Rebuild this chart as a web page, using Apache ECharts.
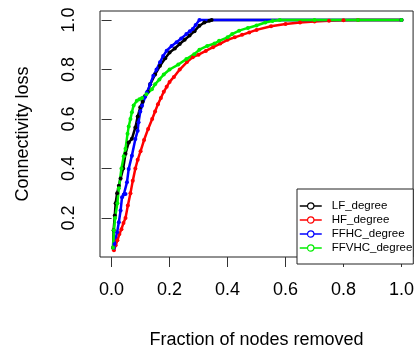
<!DOCTYPE html>
<html>
<head>
<meta charset="utf-8">
<script src="https://cdn.jsdelivr.net/npm/echarts@6/dist/echarts.min.js"></script>
<style>
  html, body { margin: 0; padding: 0; background: #fff; }
  #chart { width: 417px; height: 354px; }
</style>
</head>
<body>
<div id="chart"></div>
<script>
// values, [fraction removed, connectivity loss]
const lfDegree = [
  [0.005, 0.08], [0.007, 0.15], [0.011, 0.21], [0.014, 0.26], [0.019, 0.30], [0.025, 0.33],
  [0.031, 0.36], [0.04, 0.40], [0.048, 0.46], [0.059, 0.505], [0.07, 0.52], [0.082, 0.566],
  [0.09, 0.61], [0.099, 0.647], [0.107, 0.67], [0.116, 0.694], [0.125, 0.71], [0.133, 0.74],
  [0.15, 0.78], [0.167, 0.815], [0.185, 0.845], [0.2, 0.869], [0.218, 0.885], [0.235, 0.903],
  [0.252, 0.92], [0.269, 0.937], [0.286, 0.955], [0.303, 0.977], [0.32, 0.99], [0.337, 0.997],
  [0.345, 1.0], [1.0, 1.0]
];
const hfDegree = [
  [0.008, 0.07], [0.014, 0.09], [0.02, 0.11], [0.027, 0.135], [0.034, 0.155], [0.041, 0.18],
  [0.048, 0.2], [0.056, 0.25], [0.065, 0.3], [0.073, 0.35], [0.082, 0.4], [0.09, 0.435],
  [0.1, 0.47], [0.112, 0.515], [0.126, 0.56], [0.14, 0.6], [0.15, 0.63], [0.16, 0.66],
  [0.17, 0.685], [0.18, 0.71], [0.19, 0.73], [0.2, 0.75], [0.215, 0.77], [0.235, 0.8],
  [0.26, 0.83], [0.28, 0.85], [0.3, 0.86], [0.325, 0.875], [0.35, 0.89], [0.375, 0.905],
  [0.4, 0.92], [0.425, 0.93], [0.45, 0.94], [0.475, 0.95], [0.5, 0.96], [0.55, 0.975],
  [0.6, 0.984], [0.65, 0.99], [0.7, 0.994], [0.75, 0.997], [0.8, 0.999], [0.85, 1.0], [1.0, 1.0]
];
const ffhcDegree = [
  [0.008, 0.08], [0.01, 0.095], [0.019, 0.142], [0.025, 0.183], [0.031, 0.23], [0.036, 0.284],
  [0.042, 0.295], [0.048, 0.297], [0.053, 0.344], [0.059, 0.398], [0.07, 0.452], [0.082, 0.519],
  [0.09, 0.553], [0.093, 0.587], [0.099, 0.63], [0.105, 0.654], [0.116, 0.69], [0.122, 0.708],
  [0.133, 0.74], [0.144, 0.775], [0.155, 0.8], [0.167, 0.829], [0.178, 0.855], [0.19, 0.876],
  [0.207, 0.895], [0.224, 0.91], [0.24, 0.925], [0.258, 0.943], [0.27, 0.955], [0.28, 0.964],
  [0.29, 0.98], [0.303, 1.0], [1.0, 1.0]
];
const ffvhcDegree = [
  [0.005, 0.08], [0.008, 0.15], [0.012, 0.2], [0.02, 0.26], [0.025, 0.32], [0.034, 0.4],
  [0.042, 0.45], [0.048, 0.48], [0.055, 0.54], [0.059, 0.57], [0.065, 0.6], [0.07, 0.627],
  [0.076, 0.655], [0.087, 0.674], [0.096, 0.68], [0.105, 0.685], [0.12, 0.7], [0.139, 0.72],
  [0.15, 0.74], [0.165, 0.76], [0.18, 0.78], [0.2, 0.8], [0.23, 0.82], [0.258, 0.842],
  [0.285, 0.862], [0.303, 0.88], [0.33, 0.895], [0.355, 0.905], [0.371, 0.916], [0.4, 0.93],
  [0.416, 0.943], [0.44, 0.957], [0.47, 0.968], [0.5, 0.978], [0.53, 0.99], [0.555, 0.996],
  [0.58, 1.0], [0.7, 1.0], [0.85, 1.0], [1.0, 1.0]
];

const seriesNames = ["LF_degree", "HF_degree", "FFHC_degree", "FFVHC_degree"];
const seriesColors = ["#000000", "#ff0000", "#0000ff", "#00ee00"];
const xTicks = [0, 0.2, 0.4, 0.6, 0.8, 1.0];
const yTicks = [0.2, 0.4, 0.6, 0.8, 1.0];

const font = "Liberation Sans, Arial, Helvetica, sans-serif";
const chart = echarts.init(document.getElementById("chart"));

const makeSeries = (name, data, color) => ({
  name,
  type: "line",
  data,
  symbol: "circle",
  symbolSize: 4,
  showAllSymbol: true,
  lineStyle: { width: 2.5, color },
  itemStyle: { color },
  emphasis: { disabled: true },
  animation: false
});

chart.setOption({
  backgroundColor: "#fff",
  animation: false,
  grid: {
    left: 100, right: 2, top: 11, bottom: 96,
    show: true, borderColor: "#222", borderWidth: 1, backgroundColor: "transparent"
  },
  legend: {
    orient: "vertical",
    left: 297, top: 189,
    padding: [10, 1, 9, 2],
    backgroundColor: "#fff",
    borderColor: "#222",
    borderWidth: 1,
    borderRadius: 0,
    itemWidth: 22,
    itemHeight: 8,
    itemGap: 0,
    data: seriesNames.map((name, i) => ({
      name,
      itemStyle: { color: "#fff", borderColor: seriesColors[i], borderWidth: 1.2 },
      lineStyle: { color: seriesColors[i], width: 1.5 }
    })),
    textStyle: { fontFamily: font, fontSize: 11.5, color: "#000", lineHeight: 14, padding: [0, 0, 0, 5] }
  },
  xAxis: {
    type: "value",
    min: -0.04, max: 1.04,
    name: "Fraction of nodes removed",
    nameLocation: "middle",
    nameGap: 74,
    nameTextStyle: { fontFamily: font, fontSize: 18, color: "#000" },
    axisLine: { show: false },
    splitLine: { show: false },
    axisTick: { show: true, length: 10, inside: false, customValues: xTicks, lineStyle: { color: "#333", width: 1 } },
    axisLabel: {
      customValues: xTicks, margin: 24,
      fontFamily: font, fontSize: 18, color: "#000",
      formatter: (v) => v.toFixed(1)
    }
  },
  yAxis: {
    type: "value",
    min: 0.0424, max: 1.0364,
    name: "Connectivity loss",
    nameLocation: "middle",
    nameGap: 68,
    nameTextStyle: { fontFamily: font, fontSize: 18, color: "#000" },
    axisLine: { show: false },
    splitLine: { show: false },
    axisTick: { show: true, length: 10, inside: false, customValues: yTicks, lineStyle: { color: "#333", width: 1 } },
    axisLabel: {
      customValues: yTicks, margin: 22, rotate: 90,
      fontFamily: font, fontSize: 18, color: "#000",
      formatter: (v) => v.toFixed(1)
    }
  },
  series: [
    makeSeries(seriesNames[0], lfDegree, seriesColors[0]),
    makeSeries(seriesNames[1], hfDegree, seriesColors[1]),
    makeSeries(seriesNames[2], ffhcDegree, seriesColors[2]),
    makeSeries(seriesNames[3], ffvhcDegree, seriesColors[3])
  ]
});
</script>
</body>
</html>
